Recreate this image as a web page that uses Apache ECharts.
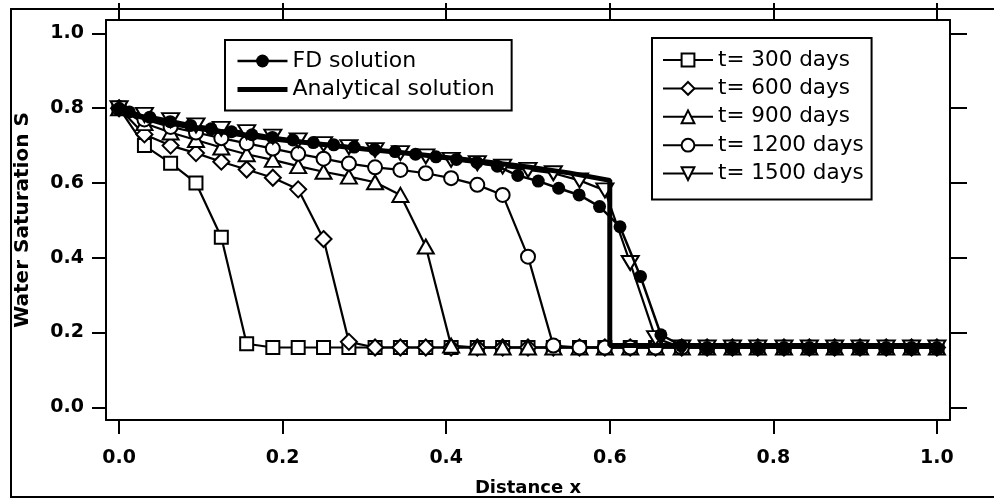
<!DOCTYPE html>
<html>
<head>
<meta charset="utf-8">
<script src="https://cdn.jsdelivr.net/npm/echarts@6/dist/echarts.min.js"></script>
<style>
html,body{margin:0;padding:0;background:#fff;}
#chart{width:994px;height:499px;}
</style>
</head>
<body>
<div id="chart"></div>
<script>
// ---- data ----
const xNodes = [0, 0.031, 0.063, 0.094, 0.125, 0.156, 0.188, 0.219, 0.25, 0.281, 0.313, 0.344, 0.375, 0.406, 0.438, 0.469, 0.5, 0.531, 0.563, 0.594, 0.625, 0.656, 0.688, 0.719, 0.75, 0.781, 0.813, 0.844, 0.875, 0.906, 0.938, 0.969, 1.0];
const s300  = [0.80, 0.70, 0.653, 0.60, 0.455, 0.17, 0.16, 0.16, 0.16, 0.16, 0.16, 0.16, 0.16, 0.16, 0.16, 0.16, 0.16, 0.16, 0.16, 0.16, 0.16, 0.16, 0.16, 0.16, 0.16, 0.16, 0.16, 0.16, 0.16, 0.16, 0.16, 0.16, 0.16];
const s600  = [0.80, 0.73, 0.70, 0.68, 0.657, 0.636, 0.614, 0.583, 0.45, 0.175, 0.16, 0.16, 0.16, 0.16, 0.16, 0.16, 0.16, 0.16, 0.16, 0.16, 0.16, 0.16, 0.16, 0.16, 0.16, 0.16, 0.16, 0.16, 0.16, 0.16, 0.16, 0.16, 0.16];
const s900  = [0.80, 0.76, 0.735, 0.715, 0.695, 0.677, 0.662, 0.645, 0.63, 0.617, 0.602, 0.568, 0.43, 0.165, 0.16, 0.16, 0.16, 0.16, 0.16, 0.16, 0.16, 0.16, 0.16, 0.16, 0.16, 0.16, 0.16, 0.16, 0.16, 0.16, 0.16, 0.16, 0.16];
const s1200 = [0.80, 0.77, 0.75, 0.735, 0.72, 0.706, 0.692, 0.678, 0.665, 0.652, 0.642, 0.635, 0.626, 0.613, 0.595, 0.568, 0.403, 0.165, 0.16, 0.16, 0.16, 0.16, 0.16, 0.16, 0.16, 0.16, 0.16, 0.16, 0.16, 0.16, 0.16, 0.16, 0.16];
const s1500 = [0.80, 0.782, 0.768, 0.754, 0.745, 0.736, 0.724, 0.714, 0.704, 0.696, 0.688, 0.68, 0.671, 0.662, 0.653, 0.644, 0.635, 0.626, 0.607, 0.58, 0.386, 0.185, 0.16, 0.16, 0.16, 0.16, 0.16, 0.16, 0.16, 0.16, 0.16, 0.16, 0.16];

const fdX = [0, 0.0125, 0.0375, 0.0625, 0.0875, 0.1125, 0.1375, 0.1625, 0.1875, 0.2125, 0.2375, 0.2625, 0.2875, 0.3125, 0.3375, 0.3625, 0.3875, 0.4125, 0.4375, 0.4625, 0.4875, 0.5125, 0.5375, 0.5625, 0.5875, 0.6125, 0.6375, 0.6625, 0.6875, 0.719, 0.75, 0.781, 0.813, 0.844, 0.875, 0.906, 0.938, 0.969, 1.0];
const fdS = [0.80, 0.79, 0.776, 0.764, 0.754, 0.745, 0.737, 0.729, 0.722, 0.715, 0.708, 0.702, 0.696, 0.69, 0.684, 0.677, 0.67, 0.663, 0.655, 0.645, 0.62, 0.605, 0.586, 0.568, 0.537, 0.483, 0.35, 0.194, 0.165, 0.16, 0.16, 0.16, 0.16, 0.16, 0.16, 0.16, 0.16, 0.16, 0.16];

const anX = [0, 0.025, 0.05, 0.1, 0.15, 0.2, 0.25, 0.3, 0.35, 0.4, 0.45, 0.5, 0.55, 0.6, 0.6, 1.0];
const anS = [0.80, 0.778, 0.765, 0.745, 0.729, 0.715, 0.703, 0.691, 0.68, 0.668, 0.656, 0.643, 0.627, 0.607, 0.165, 0.165];

const tickVals = [0, 0.2, 0.4, 0.6, 0.8, 1.0];
const seriesNames = ['t= 300 days', 't= 600 days', 't= 900 days', 't= 1200 days', 't= 1500 days'];
const fdName = 'FD solution';
const anName = 'Analytical solution';
const xTitle = 'Distance x';
const yTitle = 'Water Saturation S';

// ---- build ----
const zip = (xs, ys) => xs.map((x, i) => [x, ys[i]]);
const black = '#000';
const labelFont = { color: black, fontFamily: 'DejaVu Sans', fontWeight: 'bold', fontSize: 19 };

function tSeries(name, ys, symbol, size, rotate) {
  return {
    name, type: 'line', data: zip(xNodes, ys),
    symbol, symbolSize: size, symbolRotate: rotate || 0,
    lineStyle: { color: black, width: 2.2 },
    itemStyle: { color: black, borderWidth: 2 },
    z: 2, animation: false
  };
}

const chart = echarts.init(document.getElementById('chart'), null, { renderer: 'canvas' });
chart.setOption({
  backgroundColor: '#fff',
  animation: false,
  grid: { left: 106, right: 44, top: 20, bottom: 79, containLabel: false, outerBoundsMode: 'none' },
  xAxis: [
    {
      type: 'value', min: -0.016, max: 1.016, position: 'bottom',
      name: xTitle, nameLocation: 'middle', nameGap: 59,
      nameTextStyle: { color: black, fontFamily: 'DejaVu Sans', fontWeight: 'bold', fontSize: 18 },
      axisLine: { show: true, onZero: false, lineStyle: { color: black, width: 2 } },
      axisTick: { show: true, inside: false, length: 14, customValues: tickVals, lineStyle: { color: black, width: 2 } },
      axisLabel: Object.assign({ show: true, margin: 29, customValues: tickVals, formatter: v => v.toFixed(1) }, labelFont),
      splitLine: { show: false }
    },
    {
      type: 'value', min: -0.016, max: 1.016, position: 'top',
      axisLine: { show: true, onZero: false, lineStyle: { color: black, width: 2 } },
      axisTick: { show: true, inside: false, length: 17, customValues: tickVals, lineStyle: { color: black, width: 2 } },
      axisLabel: { show: false },
      splitLine: { show: false }
    }
  ],
  yAxis: [
    {
      type: 'value', min: -0.034, max: 1.036, position: 'left',
      name: yTitle, nameLocation: 'middle', nameGap: 73, nameRotate: 90,
      nameTextStyle: { color: black, fontFamily: 'DejaVu Sans', fontWeight: 'bold', fontSize: 20 },
      axisLine: { show: true, onZero: false, lineStyle: { color: black, width: 2 } },
      axisTick: { show: true, inside: false, length: 14, customValues: tickVals, lineStyle: { color: black, width: 2 } },
      axisLabel: Object.assign({ show: true, margin: 22, customValues: tickVals, formatter: v => v.toFixed(1) }, labelFont),
      splitLine: { show: false }
    },
    {
      type: 'value', min: -0.034, max: 1.036, position: 'right',
      axisLine: { show: true, onZero: false, lineStyle: { color: black, width: 2 } },
      axisTick: { show: true, inside: false, length: 17, customValues: tickVals, lineStyle: { color: black, width: 2 } },
      axisLabel: { show: false },
      splitLine: { show: false }
    }
  ],
  legend: [
    {
      orient: 'vertical', left: 225, top: 40, selectedMode: false,
      borderColor: black, borderWidth: 2, borderRadius: 0, padding: [10, 17, 10, 10],
      itemWidth: 50, itemHeight: 16, itemGap: 6.5,
      textStyle: { color: black, fontFamily: 'DejaVu Sans', fontSize: 22, lineHeight: 21 },
      data: [
        { name: fdName, lineStyle: { width: 2.5 } },
        { name: anName, itemStyle: { opacity: 0 }, lineStyle: { width: 5 } }
      ]
    },
    {
      orient: 'vertical', left: 652, top: 38, selectedMode: false,
      borderColor: black, borderWidth: 2, borderRadius: 0, padding: [11, 8, 15, 10],
      itemWidth: 50, itemHeight: 16, itemGap: 6.4,
      textStyle: { color: black, fontFamily: 'DejaVu Sans', fontSize: 21.5, lineHeight: 21 },
      data: seriesNames.map(n => ({ name: n, lineStyle: { width: 2 } }))
    }
  ],
  graphic: [
    { type: 'polyline', silent: true, z: 100,
      shape: { points: [[994, 9], [11, 9], [11, 497], [994, 497]] },
      style: { stroke: black, lineWidth: 2, fill: null } }
  ],
  series: [
    tSeries(seriesNames[0], s300, 'emptyRect', 13),
    tSeries(seriesNames[1], s600, 'emptyDiamond', 16),
    tSeries(seriesNames[2], s900, 'emptyTriangle', [16, 14]),
    tSeries(seriesNames[3], s1200, 'emptyCircle', 14),
    tSeries(seriesNames[4], s1500, 'emptyTriangle', [17, 14], 180),
    {
      name: fdName, type: 'line', data: zip(fdX, fdS),
      symbol: 'circle', symbolSize: 13,
      lineStyle: { color: black, width: 2.5 },
      itemStyle: { color: black },
      z: 3, animation: false
    },
    {
      name: anName, type: 'line', data: zip(anX, anS),
      symbol: 'none', showSymbol: false,
      lineStyle: { color: black, width: 5 },
      itemStyle: { color: black },
      z: 4, animation: false
    }
  ]
});
</script>
</body>
</html>
